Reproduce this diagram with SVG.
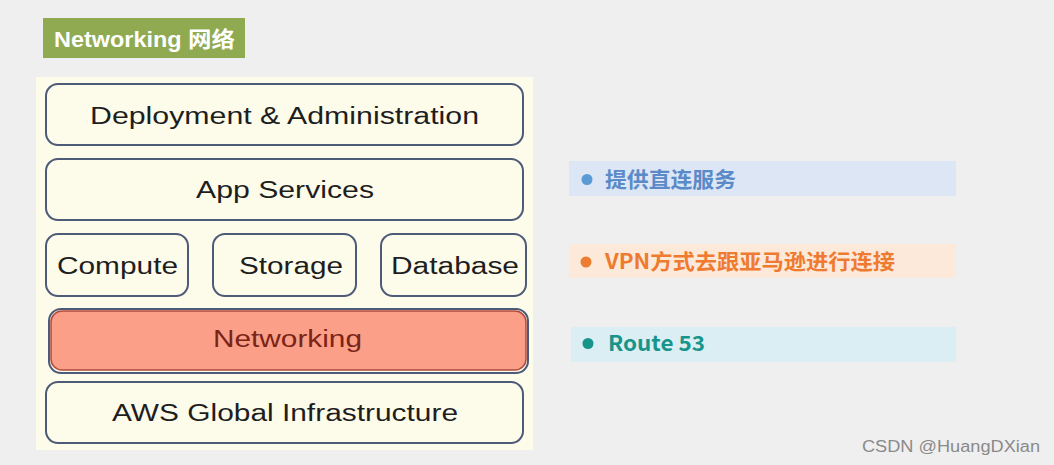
<svg xmlns="http://www.w3.org/2000/svg" width="1054" height="465" viewBox="0 0 1054 465">
<style>
.box{fill:#fdfbea;stroke:#4d5a78;stroke-width:2}
.lbl{font-family:"Liberation Sans",Arial,sans-serif;font-size:23px;fill:#1e1e1e;text-anchor:middle}
.cn{font-family:"Noto Sans CJK SC","Liberation Sans",sans-serif;font-weight:bold;font-size:21px}
</style>
<rect width="1054" height="465" fill="#efefef"/>
<g id="title">
<rect x="43" y="18" width="202" height="40" fill="#8faa50"/>
<text x="54" y="47" font-family="Liberation Sans,'Noto Sans CJK SC',sans-serif" font-weight="bold" font-size="22" fill="#ffffff" textLength="181" lengthAdjust="spacingAndGlyphs">Networking 网络</text>
</g>
<rect id="panel" x="36" y="77" width="497" height="373" fill="#fdfbea"/>
<g id="deploy"><rect class="box" x="46" y="84" width="477" height="61" rx="12"/><text class="lbl" x="284.5" y="124" textLength="389" lengthAdjust="spacingAndGlyphs">Deployment &amp; Administration</text></g>
<g id="app"><rect class="box" x="46" y="159" width="477" height="61" rx="12"/><text class="lbl" x="285" y="198" textLength="178" lengthAdjust="spacingAndGlyphs">App Services</text></g>
<g id="compute"><rect class="box" x="46" y="234" width="142" height="62" rx="12"/><text class="lbl" x="117.5" y="274" textLength="121" lengthAdjust="spacingAndGlyphs">Compute</text></g>
<g id="storage"><rect class="box" x="213" y="234" width="143" height="62" rx="12"/><text class="lbl" x="291" y="274" textLength="104" lengthAdjust="spacingAndGlyphs">Storage</text></g>
<g id="database"><rect class="box" x="381" y="234" width="145" height="62" rx="12"/><text class="lbl" x="455" y="274" textLength="128" lengthAdjust="spacingAndGlyphs">Database</text></g>
<g id="networking">
<rect x="49" y="309" width="479" height="64" rx="12" fill="none" stroke="#4d5a78" stroke-width="2"/>
<rect x="51" y="311" width="475" height="59" rx="11" fill="#fb9f88" stroke="#b04a3c" stroke-width="1.5"/>
<text class="lbl" x="287.5" y="347" textLength="149" lengthAdjust="spacingAndGlyphs" style="fill:#7a2418">Networking</text>
</g>
<g id="aws"><rect class="box" x="46" y="382" width="477" height="61" rx="12"/><text class="lbl" x="285" y="421" textLength="346" lengthAdjust="spacingAndGlyphs">AWS Global Infrastructure</text></g>
<g id="item1">
<rect x="569" y="161" width="387" height="35" fill="#dce6f4"/>
<circle cx="587" cy="179.5" r="5.5" fill="#5b9bd5"/>
<text class="cn" x="605" y="187" fill="#5a8ac8" textLength="131" lengthAdjust="spacingAndGlyphs">提供直连服务</text>
</g>
<g id="item2">
<rect x="569" y="244" width="387" height="34" fill="#fde9d9"/>
<circle cx="586" cy="262" r="5.5" fill="#ed7d31"/>
<text class="cn" x="605" y="269" fill="#ee7b30" textLength="290" lengthAdjust="spacingAndGlyphs">VPN方式去跟亚马逊进行连接</text>
</g>
<g id="item3">
<rect x="571" y="327" width="385" height="35" fill="#daeef3"/>
<circle cx="588" cy="343.5" r="5.5" fill="#17958a"/>
<text class="cn" x="608" y="351" fill="#17958a" textLength="97" lengthAdjust="spacingAndGlyphs">Route 53</text>
</g>
<text x="862" y="452" font-family="Liberation Sans,sans-serif" font-size="16" fill="#8a8a8a" textLength="178" lengthAdjust="spacingAndGlyphs">CSDN @HuangDXian</text>
</svg>
